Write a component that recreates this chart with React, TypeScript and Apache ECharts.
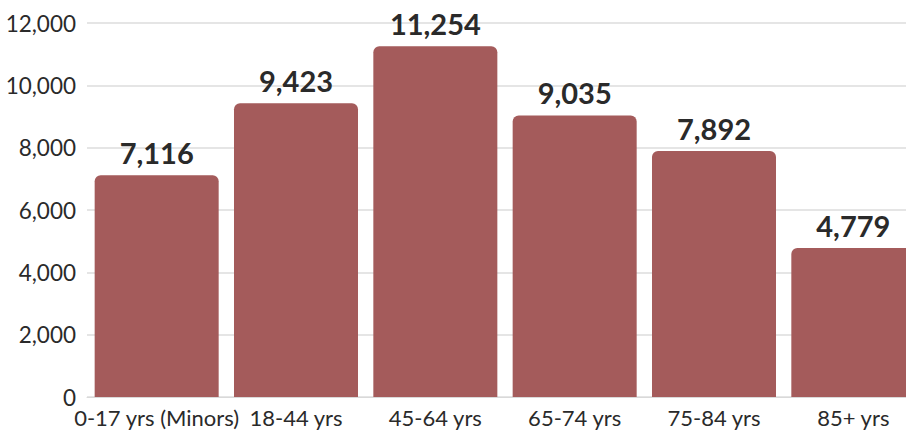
import React, { useEffect, useRef } from "react";
import * as echarts from "echarts";

const categories = ["0-17 yrs (Minors)", "18-44 yrs", "45-64 yrs", "65-74 yrs", "75-84 yrs", "85+ yrs"];
const values = [7116, 9423, 11254, 9035, 7892, 4779];

export default function App() {
  const ref = useRef<HTMLDivElement>(null);
  useEffect(() => {
    const chart = echarts.init(ref.current!, null, { renderer: "svg" });
    chart.setOption({
      animation: false,
      textStyle: { fontFamily: "Lato" },
      grid: { left: 87, width: 836, top: 23, height: 374, outerBoundsMode: "none" },
      xAxis: {
        type: "category",
        data: categories,
        axisTick: { show: false },
        axisLine: { show: true, lineStyle: { color: "#d9d9d9" } },
        axisLabel: { fontFamily: "Lato", fontSize: 22, color: "#2a2a2a", margin: 9, interval: 0 },
      },
      yAxis: {
        type: "value",
        min: 0,
        max: 12000,
        interval: 2000,
        axisLine: { show: false },
        axisTick: { show: false },
        splitLine: { lineStyle: { color: "#dcdcdc", width: 1.5 } },
        axisLabel: {
          fontFamily: "Lato",
          fontSize: 22.5,
          color: "#2a2a2a",
          margin: 11,
          formatter: (v: number) => v.toLocaleString("en-US"),
        },
      },
      series: [
        {
          type: "bar",
          data: values,
          barCategoryGap: "11%",
          itemStyle: { color: "#a45b5b", borderRadius: [6, 6, 0, 0] },
          label: {
            show: true,
            position: "top",
            distance: 8,
            fontFamily: "Lato",
            fontWeight: "bold",
            fontSize: 29,
            color: "#2a2a2a",
            formatter: (p: any) => Number(p.value).toLocaleString("en-US"),
          },
        },
      ],
    });
    return () => chart.dispose();
  }, []);
  return <div ref={ref} style={{ width: 906, height: 430, position: "absolute", left: 0, top: 0 }} />;
}
